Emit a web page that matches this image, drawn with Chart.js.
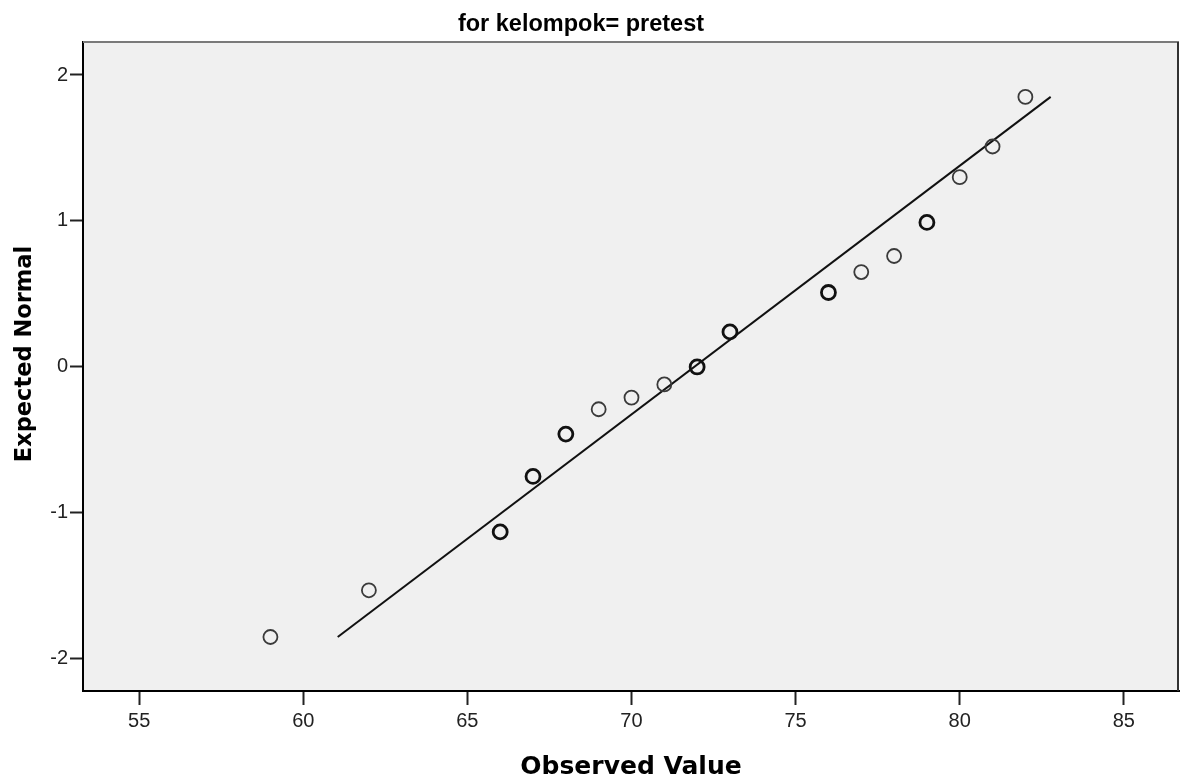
<!DOCTYPE html>
<html>
<head>
<meta charset="utf-8">
<script src="https://cdn.jsdelivr.net/npm/chart.js@4/dist/chart.umd.min.js"></script>
<style>
  html, body { margin: 0; padding: 0; background: #ffffff; }
  #wrap { width: 1182px; height: 782px; }
</style>
</head>
<body>
<div id="wrap"><canvas id="c" width="1182" height="782"></canvas></div>
<script>
// ---- data ----
const observedValues = [59, 62, 66, 67, 68, 69, 70, 71, 72, 73, 76, 77, 78, 79, 80, 81, 82];
const expectedNormal = [-1.85, -1.53, -1.13, -0.75, -0.46, -0.29, -0.21, -0.12, 0.00, 0.24, 0.51, 0.65, 0.76, 0.99, 1.30, 1.51, 1.85];
const frequency      = [1, 1, 2, 2, 2, 1, 1, 1, 2, 2, 2, 1, 1, 2, 1, 1, 1];
const refLineX = [61.05, 82.77];
const refLineY = [-1.85, 1.85];
const xTickValues = [55, 60, 65, 70, 75, 80, 85];
const yTickValues = [-2, -1, 0, 1, 2];
const chartTitle = 'for kelompok= pretest';
const xTitle = 'Observed Value';
const yTitle = 'Expected Normal';

const points = observedValues.map((x, i) => ({ x: x, y: expectedNormal[i] }));
const linePts = refLineX.map((x, i) => ({ x: x, y: refLineY[i] }));

const plotFrame = {
  id: 'plotFrame',
  beforeDraw(chart) {
    const a = chart.chartArea, ctx = chart.ctx;
    ctx.save();
    ctx.fillStyle = '#f0f0f0';
    ctx.fillRect(a.left, a.top, a.right - a.left, a.bottom - a.top);
    ctx.restore();
  },
  afterDraw(chart) {
    const a = chart.chartArea, ctx = chart.ctx;
    ctx.save();
    ctx.lineWidth = 2;
    ctx.strokeStyle = '#7a7a7a';
    ctx.beginPath(); ctx.moveTo(a.left, a.top); ctx.lineTo(a.right, a.top); ctx.stroke();
    ctx.strokeStyle = '#333333';
    ctx.beginPath(); ctx.moveTo(a.right - 1, a.top); ctx.lineTo(a.right - 1, a.bottom); ctx.stroke();
    // chart title
    ctx.fillStyle = '#000';
    ctx.textAlign = 'center';
    ctx.textBaseline = 'middle';
    ctx.font = 'bold 23.5px "Liberation Sans"';
    ctx.fillText(chartTitle, 581, 25);
    // y-axis title
    ctx.font = 'bold 22.5px "DejaVu Sans"';
    ctx.translate(25, 354);
    ctx.rotate(-Math.PI / 2);
    ctx.fillText(yTitle, 0, 0);
    ctx.restore();
  }
};

new Chart(document.getElementById('c'), {
  data: {
    datasets: [
      {
        type: 'line',
        data: linePts,
        borderColor: '#111111',
        borderWidth: 2,
        pointRadius: 0,
        fill: false,
        order: 2
      },
      {
        type: 'scatter',
        data: points,
        pointStyle: 'circle',
        pointRadius: 7,
        pointHoverRadius: 7,
        backgroundColor: 'rgba(0,0,0,0)',
        borderColor: (ctx) => frequency[ctx.dataIndex] > 1 ? '#111111' : '#3a3a3a',
        borderWidth: (ctx) => frequency[ctx.dataIndex] > 1 ? 2.8 : 1.8,
        order: 1
      }
    ]
  },
  options: {
    responsive: false,
    animation: false,
    events: [],
    layout: { autoPadding: false, padding: { left: 0, right: 3, top: 42, bottom: 0 } },
    plugins: {
      legend: { display: false },
      tooltip: { enabled: false },
      title: { display: false }
    },
    scales: {
      x: {
        type: 'linear',
        position: 'bottom',
        min: 53.29,
        max: 86.68,
        afterBuildTicks: (s) => { s.ticks = xTickValues.map(v => ({ value: v })); },
        afterFit: (s) => { s.height = 91; s.paddingLeft = 0; s.paddingRight = 0; },
        grid: { display: true, drawOnChartArea: false, drawTicks: true, tickLength: 14, tickColor: '#222', tickWidth: 2, color: '#222' },
        border: { display: true, color: '#000', width: 2 },
        ticks: { color: '#222', padding: 4, font: { family: 'Liberation Sans', size: 20 } },
        title: { display: true, text: xTitle, color: '#000', padding: { top: 0, bottom: 0 },
                 font: { family: 'DejaVu Sans', size: 25, weight: 'bold' } }
      },
      y: {
        type: 'linear',
        position: 'left',
        min: -2.22,
        max: 2.226,
        afterBuildTicks: (s) => { s.ticks = yTickValues.map(v => ({ value: v })); },
        afterFit: (s) => { s.width = 83; s.paddingTop = 0; s.paddingBottom = 0; },
        grid: { display: true, drawOnChartArea: false, drawTicks: true, tickLength: 13, tickColor: '#222', tickWidth: 2, color: '#222' },
        border: { display: true, color: '#000', width: 2 },
        ticks: { color: '#222', padding: 2, font: { family: 'Liberation Sans', size: 20 } },
        title: { display: false }
      }
    }
  },
  plugins: [plotFrame]
});
</script>
</body>
</html>
